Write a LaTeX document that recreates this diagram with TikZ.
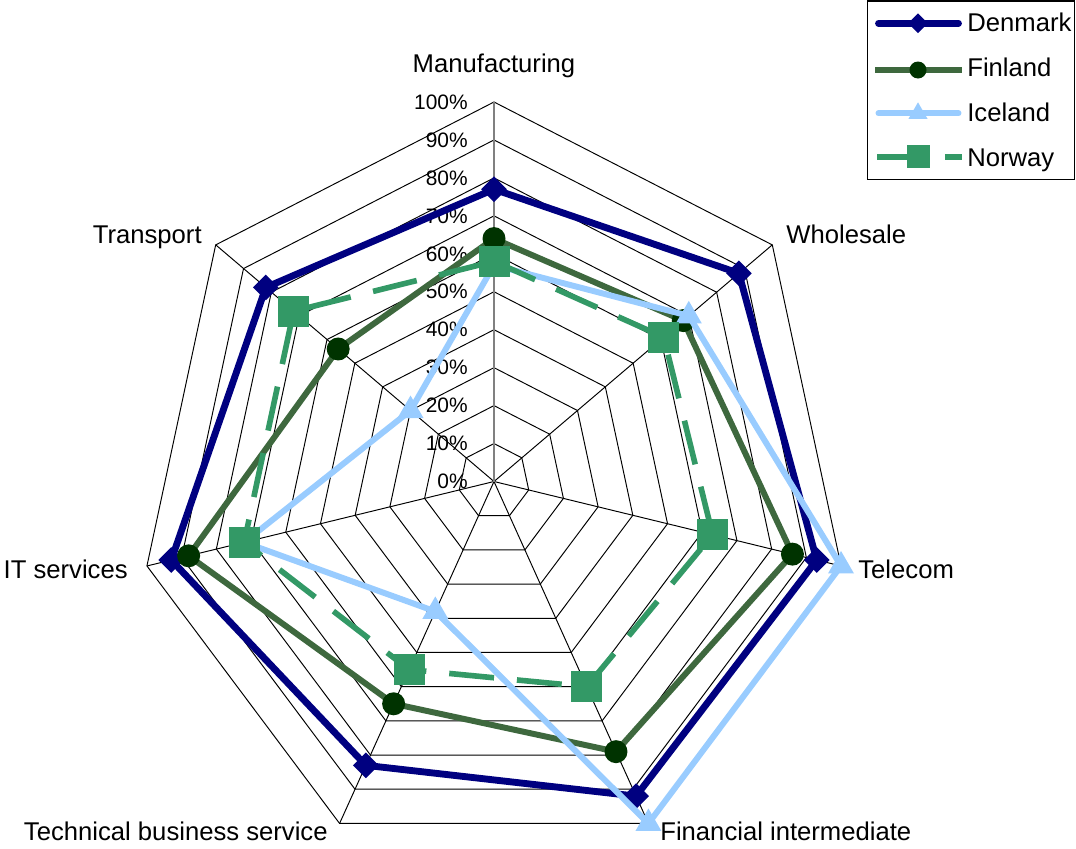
\documentclass[tikz,border=0pt]{standalone}
\usepackage{fontspec}
\setmainfont{Liberation Sans}
\usetikzlibrary{shapes.geometric}

\definecolor{dkblue}{RGB}{0,0,128}
\definecolor{figreen}{RGB}{62,104,62}
\definecolor{fidark}{RGB}{0,51,0}
\definecolor{isblue}{RGB}{153,204,255}
\definecolor{nogreen}{RGB}{51,153,102}

\begin{document}
\begin{tikzpicture}[x=0.02cm, y=-0.02cm,
  gridline/.style={black, line width=0.55pt},
  valaxis/.style={gray, line width=1.1pt},
  catlabel/.style={font=\fontsize{14.6}{17}\selectfont, inner sep=0pt},
  pctlabel/.style={font=\fontsize{11.9}{14}\selectfont, inner sep=0pt, anchor=east},
  dkline/.style={dkblue, line width=3.9pt},
  filine/.style={figreen, line width=3.4pt},
  isline/.style={isblue, line width=3.4pt},
  noline/.style={nogreen, line width=3.2pt, dash pattern=on 0.9cm off 0.46cm},
  dkmark/.style={diamond, fill=dkblue, inner sep=0pt, minimum size=0.52cm},
  fimark/.style={circle, fill=fidark, inner sep=0pt, minimum size=0.46cm},
  ismark/.style={regular polygon, regular polygon sides=3, fill=isblue, inner sep=0pt, minimum size=0.6cm},
  nomark/.style={rectangle, fill=nogreen, inner sep=0pt, minimum size=0.62cm}]
  \useasboundingbox (0,0) rectangle (1076,849);

  \begin{scope}[shift={(494,481.5)}, xscale=3.56, yscale=-3.795]
    % grid
    \coordinate (ctr) at (0,0);
    \foreach \k in {0,...,6}
      \coordinate (v\k) at ({90-\k*360/7}:100);
    \foreach \r in {10,20,...,100}
      \draw[gridline] (90:\r) \foreach \k in {1,...,6} {-- ({90-\k*360/7}:\r)} -- cycle;
    \foreach \k in {1,...,6}
      \draw[gridline] (ctr) -- (v\k);
    \draw[valaxis] (ctr) -- (v0);
    \foreach \r in {0,10,...,100}
      \node[pctlabel, xshift=-0.52cm] (p\r) at (90:\r) {\r\%};

    % data points
    \foreach \v [count=\k] in {77,88,93,92,83,93,82}
      \coordinate (dk\k) at ({90-(\k-1)*360/7}:\v);
    \foreach \v [count=\k] in {64,68,86,79,65,88,56}
      \coordinate (fi\k) at ({90-(\k-1)*360/7}:\v);
    \foreach \v [count=\k] in {57,70,100,100,38,72,30}
      \coordinate (is\k) at ({90-(\k-1)*360/7}:\v);
    \foreach \v [count=\k] in {58,61,63,60,55,72,72}
      \coordinate (no\k) at ({90-(\k-1)*360/7}:\v);

    % series
    \draw[dkline] (dk1) -- (dk2) -- (dk3) -- (dk4) -- (dk5) -- (dk6) -- (dk7) -- cycle;
    \foreach \k in {1,...,7} \node[dkmark] at (dk\k) {};
    \draw[filine] (fi1) -- (fi2) -- (fi3) -- (fi4) -- (fi5) -- (fi6) -- (fi7) -- cycle;
    \foreach \k in {1,...,7} \node[fimark] at (fi\k) {};
    \draw[isline] (is1) -- (is2) -- (is3) -- (is4) -- (is5) -- (is6) -- (is7) -- cycle;
    \foreach \k in {1,...,7} \node[ismark] at (is\k) {};
    \draw[noline] (no1) -- (no2) -- (no3) -- (no4) -- (no5) -- (no6) -- (no7) -- cycle;
    \foreach \k in {1,...,7} \node[nomark] at (no\k) {};
  \end{scope}

  % category labels
  \node[catlabel, anchor=base]      (lman) at (494,72)  {Manufacturing};
  \node[catlabel, anchor=base west] (lwho) at (786,243) {Wholesale};
  \node[catlabel, anchor=base west] (ltel) at (858,578) {Telecom};
  \node[catlabel, anchor=base west] (lfin) at (660,840) {Financial intermediate};
  \node[catlabel, anchor=base east] (ltec) at (328,840) {Technical business service};
  \node[catlabel, anchor=base east] (lits) at (128,578) {IT services};
  \node[catlabel, anchor=base east] (ltra) at (202,243) {Transport};

  % legend
  \draw[black, line width=0.8pt] (867.5,0.8) rectangle (1074.5,179.5);
  \coordinate (ldk-a) at (878.5,23.3);  \coordinate (ldk-b) at (958.5,23.3);
  \coordinate (lfi-a) at (875,70);      \coordinate (lfi-b) at (962,70);
  \coordinate (lis-a) at (878.5,113.3); \coordinate (lis-b) at (958.5,113.3);
  \coordinate (lno-a) at (877,156.7);   \coordinate (lno-b) at (962,156.7);
  \draw[dkline, line cap=round] (ldk-a) -- (ldk-b);
  \node[dkmark, minimum size=0.4cm]  at (918,23.3) {};
  \draw[filine] (lfi-a) -- (lfi-b);
  \node[fimark, minimum size=0.34cm] at (918,70) {};
  \draw[isline, line cap=round] (lis-a) -- (lis-b);
  \node[ismark, minimum size=0.44cm] at (918,113.3) {};
  \draw[noline] (lno-a) -- (lno-b);
  \node[nomark, minimum size=0.46cm] at (918,156.7) {};
  \node[catlabel, anchor=base west] (tdk) at (967,31.7)  {Denmark};
  \node[catlabel, anchor=base west] (tfi) at (967,76.7)  {Finland};
  \node[catlabel, anchor=base west] (tis) at (967,121.7) {Iceland};
  \node[catlabel, anchor=base west] (tno) at (967,166.7) {Norway};
\end{tikzpicture}
\end{document}
